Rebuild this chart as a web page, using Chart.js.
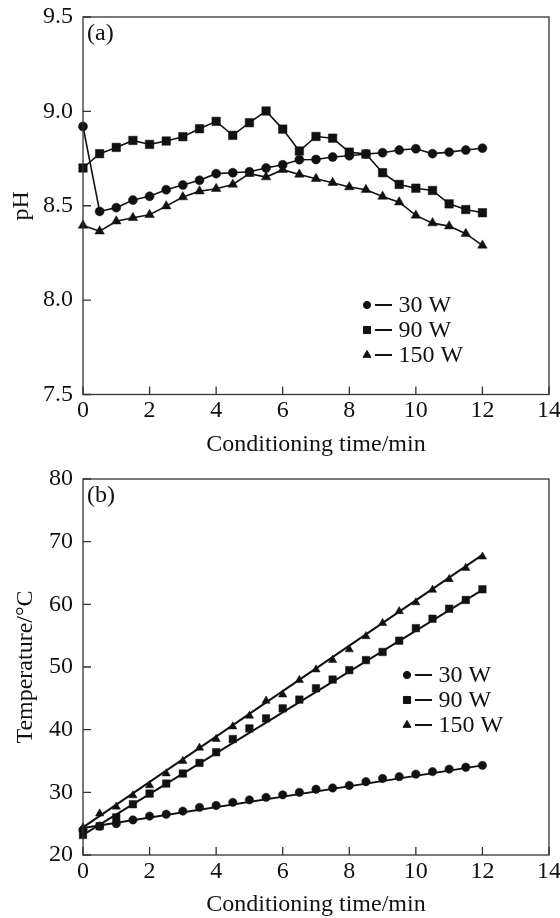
<!DOCTYPE html>
<html>
<head>
<meta charset="utf-8">
<script src="https://cdn.jsdelivr.net/npm/chart.js@4.4.1/dist/chart.umd.min.js"></script>
<style>
  body { margin: 0; background: #fff; }
  #wrap { position: relative; width: 560px; height: 918px; overflow: hidden; }
  canvas { position: absolute; left: 0; }
</style>
</head>
<body>
<div id="wrap">
  <canvas id="chartA" width="560" height="459" style="top:0px"></canvas>
  <canvas id="chartB" width="560" height="456" style="top:462px"></canvas>
</div>
<script>
// conditioning time, min
var times = [0, 0.5, 1, 1.5, 2, 2.5, 3, 3.5, 4, 4.5, 5, 5.5, 6, 6.5, 7, 7.5, 8, 8.5, 9, 9.5, 10, 10.5, 11, 11.5, 12];
var powers = ['30 W', '90 W', '150 W'];

// (a) pH
var ph30 = [8.92, 8.47, 8.49, 8.53, 8.55, 8.585, 8.61, 8.635, 8.67, 8.675, 8.68, 8.70, 8.717, 8.744, 8.745, 8.758, 8.765, 8.774, 8.781, 8.795, 8.802, 8.776, 8.784, 8.795, 8.805];
var ph90 = [8.70, 8.776, 8.809, 8.846, 8.825, 8.843, 8.866, 8.908, 8.947, 8.873, 8.94, 9.002, 8.906, 8.79, 8.867, 8.858, 8.784, 8.774, 8.675, 8.613, 8.593, 8.581, 8.51, 8.48, 8.463];
var ph150 = [8.396, 8.365, 8.418, 8.436, 8.452, 8.498, 8.546, 8.577, 8.59, 8.613, 8.67, 8.652, 8.691, 8.666, 8.643, 8.622, 8.599, 8.585, 8.549, 8.519, 8.449, 8.408, 8.392, 8.352, 8.29];

// (b) temperature, degC
var temp30 = [24.0, 24.6, 25.0, 25.6, 26.2, 26.5, 27.0, 27.6, 27.9, 28.4, 28.8, 29.2, 29.6, 30.0, 30.5, 30.7, 31.1, 31.7, 32.2, 32.5, 32.9, 33.3, 33.7, 34.0, 34.3];
var temp90 = [23.2, 24.6, 26.0, 28.1, 29.8, 31.4, 33.0, 34.7, 36.4, 38.5, 40.2, 41.8, 43.4, 44.8, 46.6, 48.0, 49.5, 51.1, 52.4, 54.2, 56.2, 57.7, 59.3, 60.7, 62.4];
var temp150 = [24.4, 26.6, 27.7, 29.5, 31.1, 33.0, 35.0, 37.1, 38.5, 40.5, 42.2, 44.6, 45.6, 47.9, 49.6, 51.1, 52.8, 54.9, 57.0, 58.9, 60.3, 62.3, 64.0, 65.8, 67.6];

// straight fitted lines in (b), read at their ends
var fitX = [0, 12];
var fit30 = [24.3, 34.3];
var fit90 = [23.2, 62.3];
var fit150 = [24.4, 67.9];

var xTicks = [0, 2, 4, 6, 8, 10, 12, 14];
var phTicks = [7.5, 8.0, 8.5, 9.0, 9.5];
var tempTicks = [20, 30, 40, 50, 60, 70, 80];

var FONT = '"Liberation Serif", "Times New Roman", serif';
var INK = '#111';

function pts(xs, ys) {
    return xs.map(function (x, i) { return { x: x, y: ys[i] }; });
}

var frame = {
    id: 'frame',
    afterDraw: function (chart) {
        var ctx = chart.ctx, a = chart.chartArea;
        ctx.save();
        ctx.strokeStyle = '#333';
        ctx.lineWidth = 1.3;
        ctx.strokeRect(a.left, a.top, a.right - a.left, a.bottom - a.top);
        var xs = chart.scales.x, ys = chart.scales.y;
        ctx.beginPath();
        xs.ticks.forEach(function (t) {
            var px = xs.getPixelForValue(t.value);
            ctx.moveTo(px, a.bottom);
            ctx.lineTo(px, a.bottom - 8);
        });
        ys.ticks.forEach(function (t) {
            var py = ys.getPixelForValue(t.value);
            ctx.moveTo(a.left, py);
            ctx.lineTo(a.left + 8, py);
        });
        ctx.stroke();

        var o = chart.options.plugins.frame;
        ctx.fillStyle = INK;
        ctx.font = '24px ' + FONT;
        ctx.textBaseline = 'middle';
        ctx.textAlign = 'left';
        ctx.fillText(o.tag, a.left + 4, a.top + 16.5);

        // legend
        var lg = o.legend;
        chart.data.datasets.forEach(function (ds) {
            if (!ds.legendText) return;
            var k = powers.indexOf(ds.legendText);
            var mx = a.left + lg.x, my = a.top + lg.y + k * lg.dy;
            ctx.fillStyle = INK;
            ctx.strokeStyle = INK;
            ctx.lineWidth = 1;
            Chart.helpers.drawPoint(ctx, { pointStyle: ds.pointStyle, radius: lg.r[k], borderWidth: 1 }, mx, my);
            ctx.beginPath();
            ctx.lineWidth = 2;
            ctx.moveTo(mx + 8, my);
            ctx.lineTo(mx + 25, my);
            ctx.stroke();
            ctx.fillText(ds.legendText, mx + 31.5, my + 1);
        });
        ctx.restore();
    }
};

function axes(yMin, yMax, yTicks, yTitle, yTitlePad, xHeight, xTitlePad, fmt) {
    return {
        x: {
            type: 'linear', min: 0, max: 14,
            afterBuildTicks: function (s) { s.ticks = xTicks.map(function (v) { return { value: v }; }); },
            afterFit: function (s) { s.height = xHeight; s.paddingLeft = 0; s.paddingRight = 0; },
            grid: { display: false, drawTicks: false },
            border: { display: false },
            ticks: { color: INK, padding: 2, maxRotation: 0, font: { family: FONT, size: 24 } },
            title: { display: true, text: 'Conditioning time/min', color: INK,
                     padding: { top: 0, bottom: xTitlePad }, font: { family: FONT, size: 24, lineHeight: 1 } }
        },
        y: {
            type: 'linear', min: yMin, max: yMax,
            afterBuildTicks: function (s) { s.ticks = yTicks.map(function (v) { return { value: v }; }); },
            afterFit: function (s) { s.width = 83; s.paddingTop = 0; s.paddingBottom = 0; },
            grid: { display: false, drawTicks: false },
            border: { display: false },
            ticks: { color: INK, padding: 10, font: { family: FONT, size: 24 }, callback: fmt },
            title: { display: true, text: yTitle, color: INK,
                     padding: { top: yTitlePad, bottom: 0 }, font: { family: FONT, size: 24, lineHeight: 1 } }
        }
    };
}

function markerSet(label, xs, ys, style, r, withLine) {
    return {
        legendText: label,
        data: pts(xs, ys),
        showLine: withLine,
        borderColor: INK,
        backgroundColor: INK,
        borderWidth: 1.6,
        pointStyle: style,
        pointRadius: r,
        pointBackgroundColor: INK,
        pointBorderColor: INK,
        pointBorderWidth: 0.5,
        tension: 0,
        clip: false
    };
}

function fitSet(ys) {
    return {
        data: pts(fitX, ys),
        showLine: true,
        borderColor: INK,
        borderWidth: 2,
        pointRadius: 0,
        tension: 0,
        clip: false
    };
}

new Chart(document.getElementById('chartA').getContext('2d'), {
    type: 'scatter',
    data: {
        datasets: [
            markerSet(powers[0], times, ph30, 'circle', 4.5, true),
            markerSet(powers[1], times, ph90, 'rect', 6, true),
            markerSet(powers[2], times, ph150, 'triangle', 5.5, true)
        ]
    },
    options: {
        responsive: false,
        animation: false,
        layout: { padding: { top: 17, right: 11, left: 0, bottom: 0 } },
        scales: axes(7.5, 9.5, phTicks, 'pH', 10, 64.5, 2.5, function (v) { return v.toFixed(1); }),
        plugins: {
            legend: { display: false },
            tooltip: { enabled: false },
            frame: { tag: '(a)', legend: { x: 284, y: 288, dy: 25, r: [3.6, 5, 4.6] } }
        }
    },
    plugins: [frame]
});

new Chart(document.getElementById('chartB').getContext('2d'), {
    type: 'scatter',
    data: {
        datasets: [
            fitSet(fit30),
            fitSet(fit90),
            fitSet(fit150),
            markerSet(powers[0], times, temp30, 'circle', 4.2, false),
            markerSet(powers[1], times, temp90, 'rect', 5.3, false),
            markerSet(powers[2], times, temp150, 'triangle', 4.8, false)
        ]
    },
    options: {
        responsive: false,
        animation: false,
        layout: { padding: { top: 17, right: 11, left: 0, bottom: 0 } },
        scales: axes(20, 80, tempTicks, 'Temperature/°C', 14, 63, 1, function (v) { return String(v); }),
        plugins: {
            legend: { display: false },
            tooltip: { enabled: false },
            frame: { tag: '(b)', legend: { x: 324, y: 196, dy: 25, r: [3.6, 5, 4.6] } }
        }
    },
    plugins: [frame]
});
</script>
</body>
</html>
